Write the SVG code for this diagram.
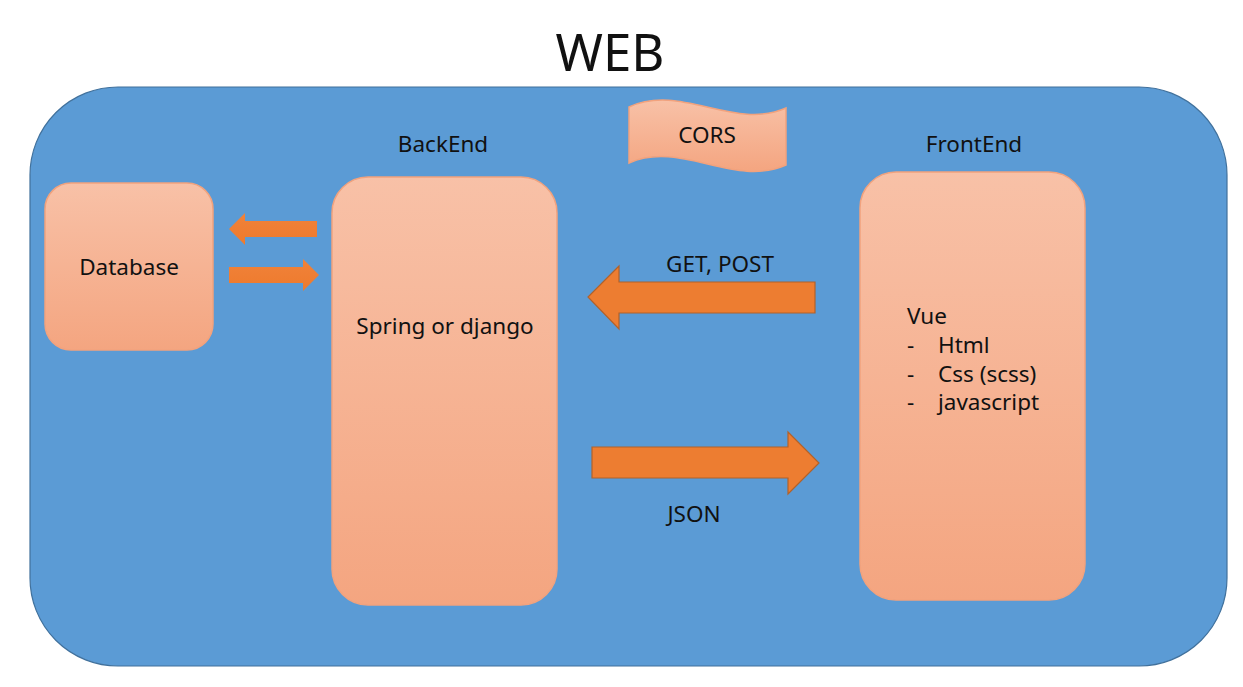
<svg xmlns="http://www.w3.org/2000/svg" width="1243" height="687" viewBox="0 0 1243 687">
<defs>
<linearGradient id="peach" x1="0" y1="0" x2="0" y2="1">
<stop offset="0" stop-color="#F8C1A7"/>
<stop offset="1" stop-color="#F4A580"/>
</linearGradient>
<linearGradient id="orangeSm" x1="0" y1="0" x2="0" y2="1">
<stop offset="0" stop-color="#F0823A"/>
<stop offset="1" stop-color="#EE7A2C"/>
</linearGradient>
<style>
.t{font-family:"Noto Sans","Open Sans","Liberation Sans",sans-serif;fill:#111;font-size:22.5px;}
.box{fill:url(#peach);stroke:#F2A27D;stroke-width:1.5;}
.big{fill:#ED7D31;stroke:#B2622A;stroke-width:1.2;}
.sm{fill:url(#orangeSm);stroke:none;}
</style>
</defs>
<rect width="1243" height="687" fill="#FFFFFF"/>
<text class="t" x="610" y="71" style="font-size:51px" text-anchor="middle">WEB</text>
<g id="web">
<rect x="30" y="87" width="1197" height="579" rx="88" ry="88" fill="#5B9BD5" stroke="#41719C" stroke-width="1.2"/>
</g>
<g id="cors">
<path class="box" d="M629,107 C681,83 734,131 786,108 L786,165 C734,188 681,140 629,163 Z"/>
<text class="t" x="707" y="143" text-anchor="middle">CORS</text>
</g>
<g id="database">
<rect class="box" x="45" y="183" width="168" height="167" rx="26" ry="26"/>
<text class="t" x="129" y="275" text-anchor="middle">Database</text>
</g>
<g id="backend">
<text class="t" x="443" y="152" text-anchor="middle">BackEnd</text>
<rect class="box" x="332" y="177" width="225" height="428" rx="36" ry="36"/>
<text class="t" x="445" y="334" text-anchor="middle">Spring or django</text>
</g>
<g id="frontend">
<text class="t" x="974" y="152" text-anchor="middle">FrontEnd</text>
<rect class="box" x="860" y="172" width="225" height="428" rx="36" ry="36"/>
<text class="t" x="907" y="324">Vue</text>
<text class="t" x="907" y="353">-</text>
<text class="t" x="938" y="353">Html</text>
<text class="t" x="907" y="382">-</text>
<text class="t" x="938" y="382">Css (scss)</text>
<text class="t" x="907" y="410">-</text>
<text class="t" x="938" y="410">javascript</text>
</g>
<g id="connectors">
<path class="sm" d="M317,221 L245,221 L245,213 L229,229 L245,245 L245,237 L317,237 Z"/>
<path class="sm" d="M229,267 L303,267 L303,259 L319,275 L303,291 L303,283 L229,283 Z"/>
<path class="big" d="M815,282 L619,282 L619,266 L588,297 L619,329 L619,313 L815,313 Z"/>
<path class="big" d="M592,447 L788,447 L788,432 L819,463 L788,494 L788,478 L592,478 Z"/>
<text class="t" x="720" y="272" text-anchor="middle">GET, POST</text>
<text class="t" x="694" y="522" text-anchor="middle">JSON</text>
</g>
</svg>
